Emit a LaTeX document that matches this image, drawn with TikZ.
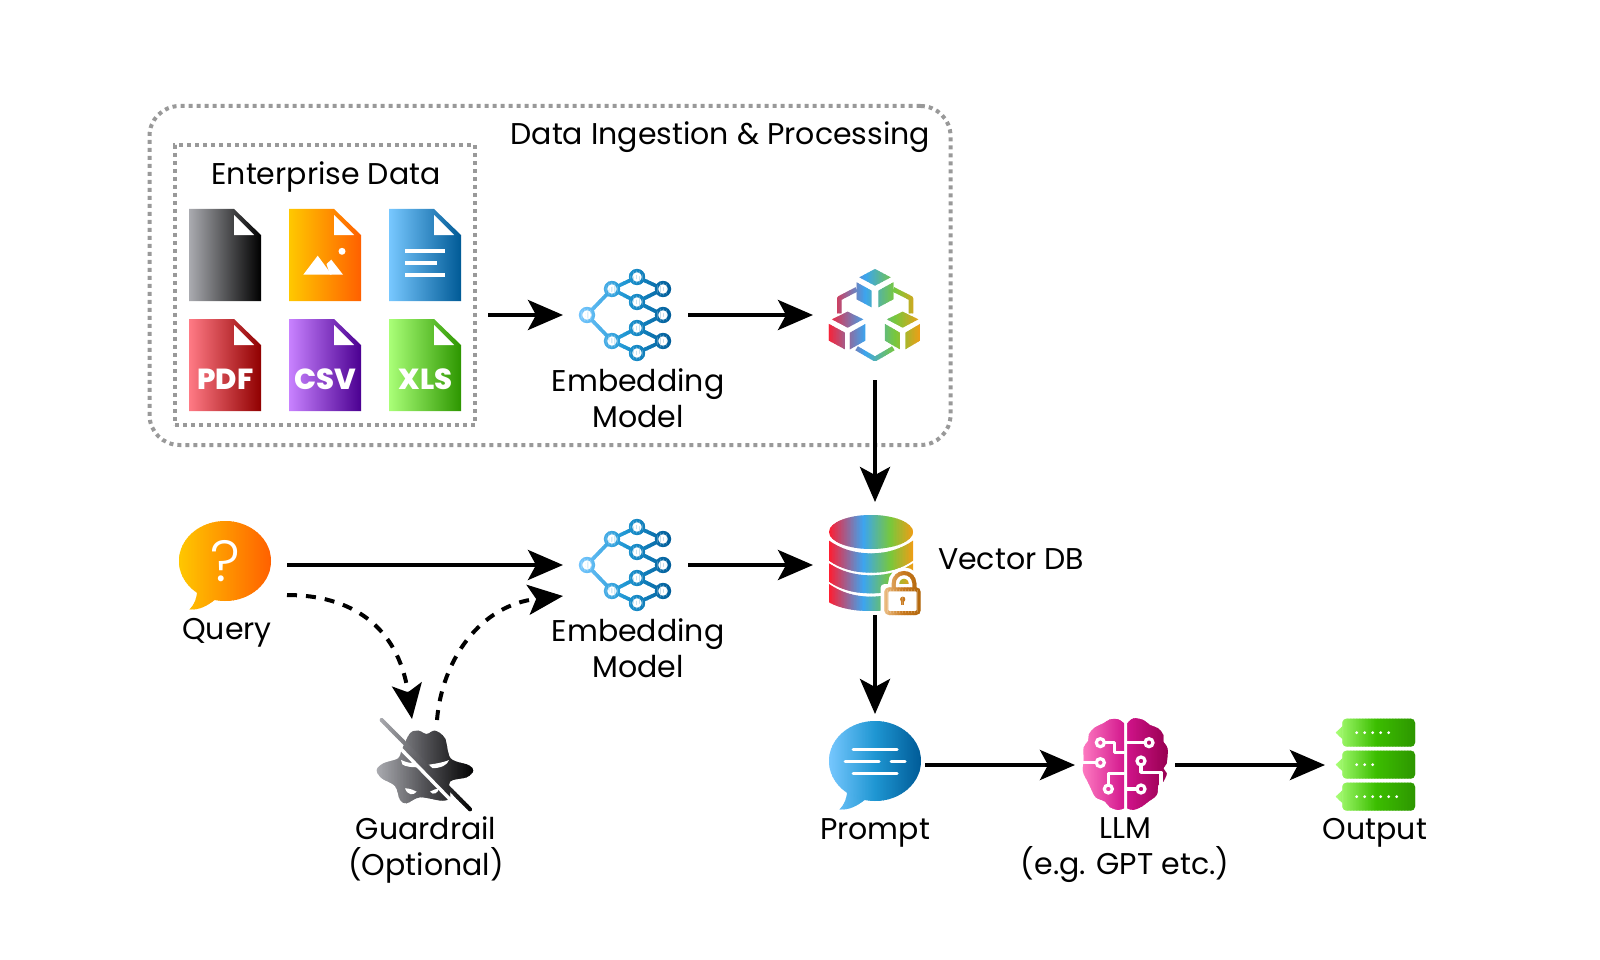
\documentclass[tikz,border=0pt]{standalone}
\usepackage{fontspec}
\setmainfont{Poppins}
\newfontfamily\heavyfont{Poppins ExtraBold}
\newfontfamily\lightfont{Poppins Light}
\usetikzlibrary{arrows.meta}
\definecolor{dotgrey}{HTML}{999999}
\definecolor{kA}{HTML}{AAABB0}\definecolor{kB}{HTML}{505054}\definecolor{kC}{HTML}{000000}
\definecolor{oA}{HTML}{FFC800}\definecolor{oB}{HTML}{FF9400}\definecolor{oC}{HTML}{FF6000}
\definecolor{bA}{HTML}{78C8FF}\definecolor{bB}{HTML}{1E96D2}\definecolor{bC}{HTML}{005A96}
\definecolor{rA}{HTML}{FF7A85}\definecolor{rB}{HTML}{C80A1E}\definecolor{rC}{HTML}{900000}
\definecolor{pA}{HTML}{C882FF}\definecolor{pB}{HTML}{7814C8}\definecolor{pC}{HTML}{4B0091}
\definecolor{gA}{HTML}{AAFF78}\definecolor{gB}{HTML}{3CBE00}\definecolor{gC}{HTML}{2D9600}
\definecolor{mA}{HTML}{FF7DC3}\definecolor{mB}{HTML}{D2148C}\definecolor{mC}{HTML}{960050}
\definecolor{wA}{HTML}{FF1E32}\definecolor{wB}{HTML}{3CA5F0}\definecolor{wC}{HTML}{78C83C}\definecolor{wD}{HTML}{F59B14}
\definecolor{lA}{HTML}{EDC088}\definecolor{lB}{HTML}{C8791E}\definecolor{lC}{HTML}{B0650A}
\newcommand{\SetStops}[6]{\def\gsA{#1}\def\gsB{#2}\def\gsC{#3}\def\gsD{#4}\def\gTa{#5}\def\gTb{#6}}
\newcommand{\GradIcon}[5]{%
  \pgfmathsetmacro{\gN}{int(ceil((#2-#1)/1.5))}%
  \foreach \gi in {0,...,\gN}{%
    \pgfmathsetmacro{\gt}{\gi/\gN}%
    \pgfmathsetmacro{\gx}{#1+\gt*(#2-#1)}%
    \ifdim\gt pt<\gTa pt\relax
      \pgfmathsetmacro{\gp}{100*\gt/\gTa}\colorlet{gc}{\gsB!\gp!\gsA}%
    \else\ifdim\gt pt<\gTb pt\relax
      \pgfmathsetmacro{\gp}{100*(\gt-\gTa)/(\gTb-\gTa)}\colorlet{gc}{\gsC!\gp!\gsB}%
    \else
      \pgfmathsetmacro{\gp}{min(100,100*(\gt-\gTb)/(1-\gTb))}\colorlet{gc}{\gsD!\gp!\gsC}%
    \fi\fi
    \begin{scope}
      \clip (\gx,#3) rectangle (\gx+2.1,#4);
      #5
    \end{scope}
  }%
}
\tikzset{
  lbl/.style={font=\fontsize{30}{36}\selectfont,inner sep=0,outer sep=0,align=center,text=black},
  iconbox/.style={inner sep=0,outer sep=0,minimum width=#1},
  flow/.style={line width=4pt,-{Stealth[length=35pt,width=30pt,inset=8pt]}},
  dflow/.style={flow,dash pattern=on 10pt off 9pt},
  dotbox/.style={draw=dotgrey,line width=4pt,dash pattern=on 4pt off 4pt,inner sep=0,outer sep=0},
  filetag/.style={font=\fontsize{29}{30}\selectfont\heavyfont,text=white,inner sep=0},
  ringw/.style={draw=white,line width=3.2pt},
  wline/.style={draw=white,line width=3.2pt,line cap=round,line join=round},
}
\newcommand{\FileIcon}[5]{%
  \path[left color=#3,middle color=#4,right color=#5] (#1,#2) -- ++(45,0) -- ++(27,26) -- ++(0,66) -- ++(-72,0) -- cycle;
  \fill[white] (#1+45,#2+6) -- ++(0,20) -- ++(20,0) -- cycle;
}
\newcommand{\EmbIcon}[1]{%
  \SetStops{bA}{bB}{bC}{bC}{0.5}{0.99}%
  \GradIcon{577}{674}{#1-47}{#1+47}{%
    \begin{scope}[shift={(0,#1-315)}]
      \draw[gc,line width=3.6pt]
        (587,315)--(612,289)--(637,277)--(663,289)--(637,302)--(612,289)
        (637,302)--(663,315)--(637,328)--(612,341)--(587,315)
        (612,341)--(637,353)--(663,341)--(637,328);
      \foreach \p in {(587,315),(612,289),(612,341),(637,277),(637,302),(637,328),(637,353),(663,289),(663,315),(663,341)}
        \filldraw[draw=gc,fill=white,line width=3.4pt] \p circle (6.4);
    \end{scope}}%
}
\newcommand{\BubbleShape}[1]{%
  \fill[gc] (225,#1) ellipse (46 and 40);
  \fill[gc] (197,#1+30) .. controls (197,#1+38) and (194,#1+44) .. (189.5,#1+48.5)
     .. controls (201,#1+49) and (208,#1+44) .. (216,#1+38) -- cycle;
}
\begin{document}
\begin{tikzpicture}[x=1pt,y=-1pt]
\useasboundingbox (0,0) rectangle (1600,960);
% containers
\node[dotbox,rounded corners=30pt,minimum width=801pt,minimum height=339pt] (outer) at (550,275.5) {};
\node[dotbox,minimum width=300pt,minimum height=280pt] (inner) at (325,285) {};
\node[lbl,anchor=base east] (title) at (930,145) {Data Ingestion \& Processing};
\node[lbl,anchor=base] (entdata) at (326,185) {Enterprise Data};
% files
\FileIcon{189}{209}{kA}{kB}{kC}
\FileIcon{289}{209}{oA}{oB}{oC}
\FileIcon{389}{209}{bA}{bB}{bC}
\FileIcon{189}{319}{rA}{rB}{rC}
\FileIcon{289}{319}{pA}{pB}{pC}
\FileIcon{389}{319}{gA}{gB}{gC}
\fill[white] (342,251.3) circle (3.5);
\fill[white] (303.3,274.7) -- (317.7,255.7) -- (331.7,274.7) -- cycle;
\fill[white] (326.5,264) -- (331.3,259.7) -- (343,274.7) -- (330,274.7) -- cycle;
\draw[white,line width=3.4pt] (405,251) -- (445,251) (405,263) -- (437,263) (405,275) -- (445,275);
\node[filetag] (pdf) at (225.5,379) {PDF};
\node[filetag] (csv) at (325.5,379) {CSV};
\node[filetag] (xls) at (425.5,379) {XLS};
\node[iconbox=308pt,minimum height=10pt] (files) at (334,315) {};
% embedding icons
\EmbIcon{315}
\EmbIcon{565}
\node[iconbox=125pt,minimum height=90pt] (emb1) at (625.5,315) {};
\node[iconbox=125pt,minimum height=90pt] (emb2) at (625.5,565) {};
\node[lbl] (emb1t) at (638,398) {Embedding\\Model};
\node[lbl] (emb2t) at (638,648) {Embedding\\Model};
% cubes
\SetStops{wA}{wB}{wC}{wD}{0.4}{0.72}
\GradIcon{827}{921}{266}{362}{%
  \begin{scope}[shift={(550,250)},x=0.3333pt,y=-0.3333pt]
    \fill[gc] (975,57)--(1022,82)--(975,107)--(928,82)--cycle;
    \fill[gc] (920,97)--(965,122)--(965,172)--(920,148)--cycle;
    \fill[gc] (1030,97)--(985,122)--(985,172)--(1030,148)--cycle;
    \fill[gc] (893,185)--(940,208)--(893,233)--(846,208)--cycle;
    \fill[gc] (837,222)--(885,248)--(885,298)--(837,272)--cycle;
    \fill[gc] (900,248)--(946,222)--(946,272)--(900,298)--cycle;
    \fill[gc] (1058,185)--(1105,208)--(1058,233)--(1011,208)--cycle;
    \fill[gc] (1005,222)--(1050,248)--(1050,298)--(1005,272)--cycle;
    \fill[gc] (1066,248)--(1110,222)--(1110,272)--(1066,298)--cycle;
    \draw[gc,line width=4.6pt,line join=round] (868,190)--(868,145)--(920,118)
      (1083,190)--(1083,145)--(1030,118) (920,295)--(975,327)--(1030,295);
  \end{scope}}
\node[iconbox=124pt,minimum height=130pt] (cube) at (875,315) {};
% vector DB
\GradIcon{829}{913.5}{512}{622}{%
  \begin{scope}[shift={(820,510)},x=0.3333pt,y=-0.3333pt]
    \fill[gc] (153,66) ellipse [x radius=126,y radius=51];
    \fill[gc] (27,92) .. controls (60,115) and (100,130) .. (153,130) .. controls (206,130) and (246,115) .. (279,92) -- (279,152) .. controls (246,175) and (206,188) .. (153,188) .. controls (100,188) and (60,175) .. (27,152) -- cycle;
    \fill[gc] (27,160) .. controls (60,182) and (100,196) .. (153,196) .. controls (206,196) and (246,182) .. (279,160) -- (279,215) .. controls (246,238) and (206,250) .. (153,250) .. controls (100,250) and (60,238) .. (27,215) -- cycle;
    \fill[gc] (27,222) .. controls (60,245) and (100,260) .. (153,260) .. controls (206,260) and (246,245) .. (279,222) -- (279,277) .. controls (246,295) and (206,303) .. (153,303) .. controls (100,303) and (60,295) .. (27,277) -- cycle;
  \end{scope}}
\fill[white,rounded corners=4pt] (880.5,584) rectangle (926,620);
\draw[white,line width=11pt] (893.7,590) -- (893.7,583.3) arc[start angle=180,end angle=360,radius=10.3] -- (914.3,590);
\SetStops{lA}{lB}{lC}{lC}{0.5}{0.99}
\GradIcon{883}{922}{568}{618}{%
  \draw[gc,line width=4pt] (893.7,590) -- (893.7,583.3) arc[start angle=180,end angle=360,radius=10.3] -- (914.3,590);
  \filldraw[draw=gc,fill=white,line width=4pt,rounded corners=3pt] (886.3,589.3) rectangle (918.7,613);
  \fill[gc] (902.7,599.3) circle (2.7);
  \fill[gc] (901.4,599.3) rectangle (904,604.5);}
\node[iconbox=124pt,minimum height=113pt] (db) at (875,558.5) {};
\node[lbl,anchor=base west] (dbt) at (938,569) {Vector DB};
% query
\SetStops{oA}{oB}{oC}{oC}{0.5}{0.99}
\GradIcon{178}{272}{518}{612}{\BubbleShape{561}}
\node[font=\fontsize{58}{58}\selectfont\lightfont,text=white,inner sep=0] (qmark) at (225,561) {?};
\node[iconbox=124pt,minimum height=10pt] (query) at (225,565) {};
\node[lbl,anchor=base] (queryt) at (227,639) {Query};
% guardrail
\SetStops{kA}{kB}{kC}{kC}{0.5}{0.99}
\GradIcon{376}{475}{722}{812}{%
  \begin{scope}[shift={(370,710)},x=0.3333pt,y=-0.3333pt]
    \fill[gc] plot[smooth cycle,tension=.55] coordinates {(95,120) (120,70) (145,62) (170,72) (195,62) (225,85) (242,145) (295,165) (310,182) (290,202) (240,215) (240,262) (215,272) (150,262) (110,280) (90,270) (75,228) (35,205) (20,180) (40,160) (85,145)};
  \end{scope}}
\begin{scope}[shift={(370,710)},x=0.3333pt,y=-0.3333pt]
  \fill[white] (93,150) .. controls (110,158) and (125,160) .. (140,160) -- (150,172) .. controls (125,172) and (105,170) .. (97,163) -- cycle;
  \fill[white] (170,165) .. controls (190,162) and (220,158) .. (237,150) .. controls (232,165) and (215,175) .. (180,175) -- cycle;
  \fill[white] (105,235) .. controls (120,235) and (130,240) .. (140,245) .. controls (130,258) and (112,255) .. (105,235) -- cycle;
  \fill[white] (180,245) .. controls (190,240) and (198,236) .. (207,235) .. controls (205,248) and (190,258) .. (180,245) -- cycle;
  \draw[white,line width=3.4pt] (88,112) -- (240,268);
\end{scope}
\GradIcon{379}{474}{718}{812}{%
  \begin{scope}[shift={(370,710)},x=0.3333pt,y=-0.3333pt]
    \draw[gc,line width=4pt,line cap=round] (35,30) -- (300,298);
  \end{scope}}
\node[lbl] (guardt) at (426,850) {Guardrail\\(Optional)};
\coordinate (qd) at (287,595);
\coordinate (gt) at (412,719);
\coordinate (gs) at (437,720);
\coordinate (et) at (563,596);
% prompt
\SetStops{bA}{bB}{bC}{bC}{0.5}{0.99}
\GradIcon{828}{922}{718}{812}{\begin{scope}[shift={(650,200)}]\BubbleShape{561}\end{scope}}
\draw[white,line width=3pt,line cap=round] (853,749) -- (897,749) (845,761) -- (879,761) (891,761) -- (905,761) (853,773) -- (897,773);
\node[iconbox=100pt,minimum height=102pt] (prompt) at (875,765) {};
\node[lbl,anchor=base] (promptt) at (875,839) {Prompt};
% LLM
\SetStops{mA}{mB}{mC}{mC}{0.5}{0.99}
\GradIcon{1081}{1169}{716}{812}{%
  \begin{scope}[shift={(1075,710)},x=0.3333pt,y=-0.3333pt]
    \fill[gc] plot[smooth,tension=.6] coordinates {(147,40) (130,28) (105,28) (85,40) (60,52) (42,72) (40,92) (26,112) (26,150) (24,185) (38,215) (50,240) (62,262) (90,275) (105,292) (130,300) (147,295)} -- cycle;
    \fill[gc] plot[smooth,tension=.6] coordinates {(157,40) (175,25) (205,30) (225,45) (250,55) (265,75) (265,95) (278,115) (275,160) (265,175) (275,190) (265,215) (250,225) (245,255) (220,275) (200,290) (175,300) (157,295)} -- cycle;
  \end{scope}}
\begin{scope}[shift={(1075,710)},x=0.3333pt,y=-0.3333pt]
  \draw[wline] (88,98) -- (118,98) -- (118,127) -- (147,127);
  \draw[wline] (64,158) -- (25,158);
  \draw[wline] (100,225) -- (100,190) -- (147,190);
  \draw[wline] (210,98) -- (157,98);
  \draw[wline] (198,165) -- (198,187) -- (258,187) -- (258,222);
  \draw[wline] (186,237) -- (157,237);
  \foreach \p in {(76,98),(76,158),(100,237),(222,98),(198,153),(198,237)}
    \draw[ringw] \p circle [radius=12];
\end{scope}
\node[iconbox=100pt,minimum height=100pt] (llm) at (1125,765) {};
\node[lbl] (llmt) at (1125,850.5) {LLM\\(e.g. GPT etc.)};
% output
\SetStops{gA}{gB}{gC}{gC}{0.5}{0.99}
\GradIcon{1335}{1416}{716}{812}{%
  \begin{scope}[shift={(1330,710)},x=0.3333pt,y=-0.3333pt]
    \foreach \yy in {0,96,192}{
      \fill[gc,rounded corners=4pt] (37,26+\yy) rectangle (255,110+\yy);
      \fill[gc] (38,48+\yy) -- (17,68+\yy) -- (38,88+\yy) -- cycle;
    }
  \end{scope}}
\begin{scope}[shift={(1330,710)},x=0.3333pt,y=-0.3333pt]
  \foreach \xx in {80,104,...,176} \fill[white] (\xx,68) circle [radius=4.6];
  \foreach \xx in {80,104,128} \fill[white] (\xx,164) circle [radius=4.6];
  \foreach \xx in {80,104,...,200} \fill[white] (\xx,260) circle [radius=4.6];
\end{scope}
\node[iconbox=120pt,minimum height=100pt] (output) at (1385,765) {};
\node[lbl,anchor=base] (outputt) at (1375,839) {Output};
% connectors
\draw[flow] (files.east) -- (emb1.west);
\draw[flow] (emb1.east) -- (cube.west);
\draw[flow] (cube.south) -- (db.north);
\draw[flow] (query.east) -- (emb2.west);
\draw[flow] (emb2.east) -- (db.west |- emb2.east);
\draw[flow] (db.south) -- (prompt.north);
\draw[flow] (prompt.east) -- (llm.west);
\draw[flow] (llm.east) -- (output.west);
\draw[dflow] (qd) .. controls (350,595) and (398,625) .. (gt);
\draw[dflow] (gs) .. controls (442,660) and (480,605) .. (et);
\end{tikzpicture}
\end{document}
